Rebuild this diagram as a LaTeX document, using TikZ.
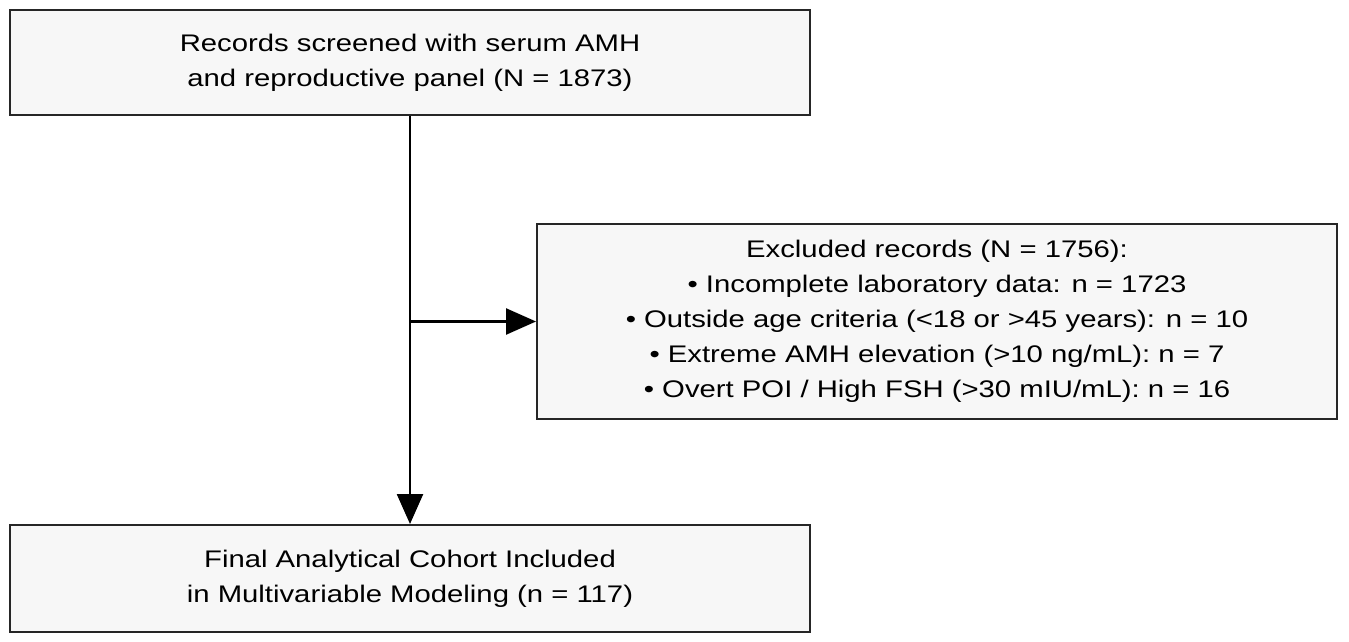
\documentclass[tikz,border=0pt]{standalone}
\usepackage{fontspec}
\setmainfont{Liberation Sans}[FakeStretch=1.22]
\usetikzlibrary{arrows.meta,positioning,calc}
\tikzset{stage/.style={rectangle, draw=black!85, fill=black!3, line width=2pt,
minimum width=800pt, align=center, inner sep=0pt,
font=\fontsize{24}{35}\selectfont},
-/.style={color=black, line width=2.5pt},
>={Triangle[length=30pt,width=26pt]}}
\begin{document}
\begin{tikzpicture}[x=1pt,y=1pt]
  \useasboundingbox (0,0) rectangle (1349,641);
  \node (screen) [stage, minimum height=105pt] at (410,578.5)
    {Records screened with serum AMH\\and reproductive panel (N = 1873)};
  \node (excl) [stage, minimum height=195pt] at (937,319.5)
    {Excluded records (N = 1756):\\
     • Incomplete laboratory data: n = 1723\\
     • Outside age criteria (<18 or >45 years): n = 10\\
     • Extreme AMH elevation (>10 ng/mL): n = 7\\
     • Overt POI / High FSH (>30 mIU/mL): n = 16};
  \node (final) [stage, minimum height=107pt] at (410,62.5)
    {Final Analytical Cohort Included\\in Multivariable Modeling (n = 117)};
  \coordinate (split) at (screen.south |- excl.west);

  \draw [-,->] (screen) -- (final);
  \draw [-,->] (split) -- (excl);
\end{tikzpicture}
\end{document}
